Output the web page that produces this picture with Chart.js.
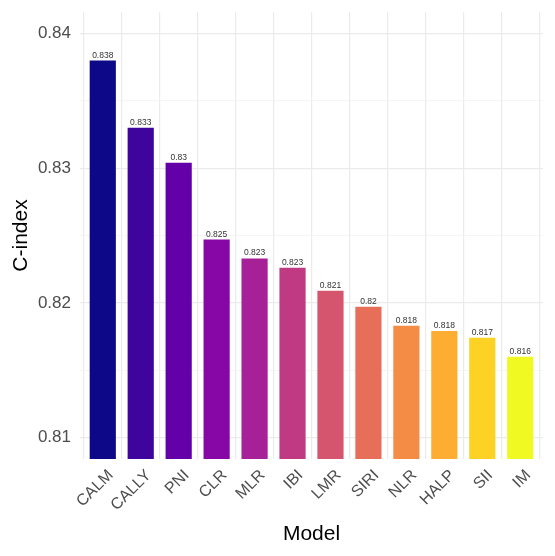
<!DOCTYPE html>
<html>
<head>
<meta charset="utf-8">
<script src="https://cdn.jsdelivr.net/npm/chart.js@4/dist/chart.umd.min.js"></script>
<style>
  html, body { margin: 0; padding: 0; background: #ffffff; }
  #wrap { width: 555px; height: 556px; }
</style>
</head>
<body>
<div id="wrap"><canvas id="myChart" width="555" height="556"></canvas></div>
<script>
// data
const models = ["CALM", "CALLY", "PNI", "CLR", "MLR", "IBI", "LMR", "SIRI", "NLR", "HALP", "SII", "IM"];
const cIndex = [0.8380, 0.8330, 0.8304, 0.8247, 0.8233, 0.8226, 0.8209, 0.8197, 0.8183, 0.8179, 0.8174, 0.8160];
const barColors = ["#0D0887", "#3E049C", "#6300A7", "#8707A6", "#A62098", "#C03A83",
                   "#D5546E", "#E76F5A", "#F58C46", "#FDAD32", "#FCD225", "#F0F921"];
const majorTicks = [0.81, 0.82, 0.83, 0.84];
const minorTicks = [0.815, 0.825, 0.835];

const font = "'Liberation Sans', Arial, Helvetica, sans-serif";
const allTicks = majorTicks.concat(minorTicks).sort((a, b) => a - b);
const isMajor = (v) => majorTicks.some(m => Math.abs(m - v) < 1e-9);

// bars sit on a numeric x so the discrete padding matches (0.6 of a step each side)
const points = cIndex.map((v, i) => ({ x: i, y: v }));

// small value labels above each bar
const valueLabels = {
    id: 'valueLabels',
    afterDatasetsDraw(chart) {
        const ctx = chart.ctx;
        const meta = chart.getDatasetMeta(0);
        ctx.save();
        ctx.font = "8.5px " + font;
        ctx.fillStyle = "#333333";
        ctx.textAlign = "center";
        ctx.textBaseline = "bottom";
        meta.data.forEach((bar, i) => {
            const txt = String(Number(cIndex[i].toFixed(3)));
            ctx.fillText(txt, bar.x, bar.y - 1);
        });
        ctx.restore();
    }
};

var ctx = document.getElementById("myChart").getContext("2d");
var config = {
    type: 'bar',
    data: {
        datasets: [{
            label: 'C-index',
            data: points,
            backgroundColor: barColors,
            borderWidth: 0,
            barPercentage: 0.69,
            categoryPercentage: 1
        }]
    },
    options: {
        responsive: false,
        animation: false,
        layout: { padding: { top: 12, right: 12, left: 0, bottom: 0 } },
        plugins: {
            legend: { display: false },
            tooltip: { enabled: false }
        },
        scales: {
            x: {
                type: 'linear',
                min: -0.6,
                max: models.length - 0.4,
                offset: false,
                border: { display: false },
                afterBuildTicks: (scale) => {
                    scale.ticks = models.map((m, i) => ({ value: i }));
                },
                grid: { color: '#EBEBEB', lineWidth: 1.2, drawTicks: false },
                ticks: {
                    color: '#4D4D4D',
                    font: { family: font, size: 16 },
                    minRotation: 45,
                    maxRotation: 45,
                    autoSkip: false,
                    padding: 7,
                    labelOffset: 8,
                    callback: (v) => models[v]
                },
                title: {
                    display: true,
                    text: 'Model',
                    color: '#000000',
                    font: { family: font, size: 21 },
                    padding: { top: 0, bottom: 9 }
                },
                afterFit: (scale) => {
                    scale.height = 97;
                    scale.paddingLeft = 0;
                    scale.paddingRight = 0;
                }
            },
            y: {
                min: 0.8084,
                max: 0.8416,
                border: { display: false },
                afterBuildTicks: (scale) => {
                    scale.ticks = allTicks.map(v => ({ value: v }));
                },
                grid: {
                    drawTicks: false,
                    color: (c) => isMajor(c.tick.value) ? '#EBEBEB' : '#F3F3F3',
                    lineWidth: (c) => isMajor(c.tick.value) ? 1.2 : 0.8
                },
                ticks: {
                    color: '#4D4D4D',
                    font: { family: font, size: 17 },
                    padding: 9,
                    autoSkip: false,
                    callback: (v) => isMajor(v) ? String(v) : ''
                },
                title: {
                    display: true,
                    text: 'C-index',
                    color: '#000000',
                    font: { family: font, size: 21 },
                    padding: { top: 9, bottom: 0 }
                },
                afterFit: (scale) => {
                    scale.width = 80;
                    scale.paddingTop = 0;
                    scale.paddingBottom = 0;
                }
            }
        }
    },
    plugins: [valueLabels]
};
var myChart = new Chart(ctx, config);
</script>
</body>
</html>
